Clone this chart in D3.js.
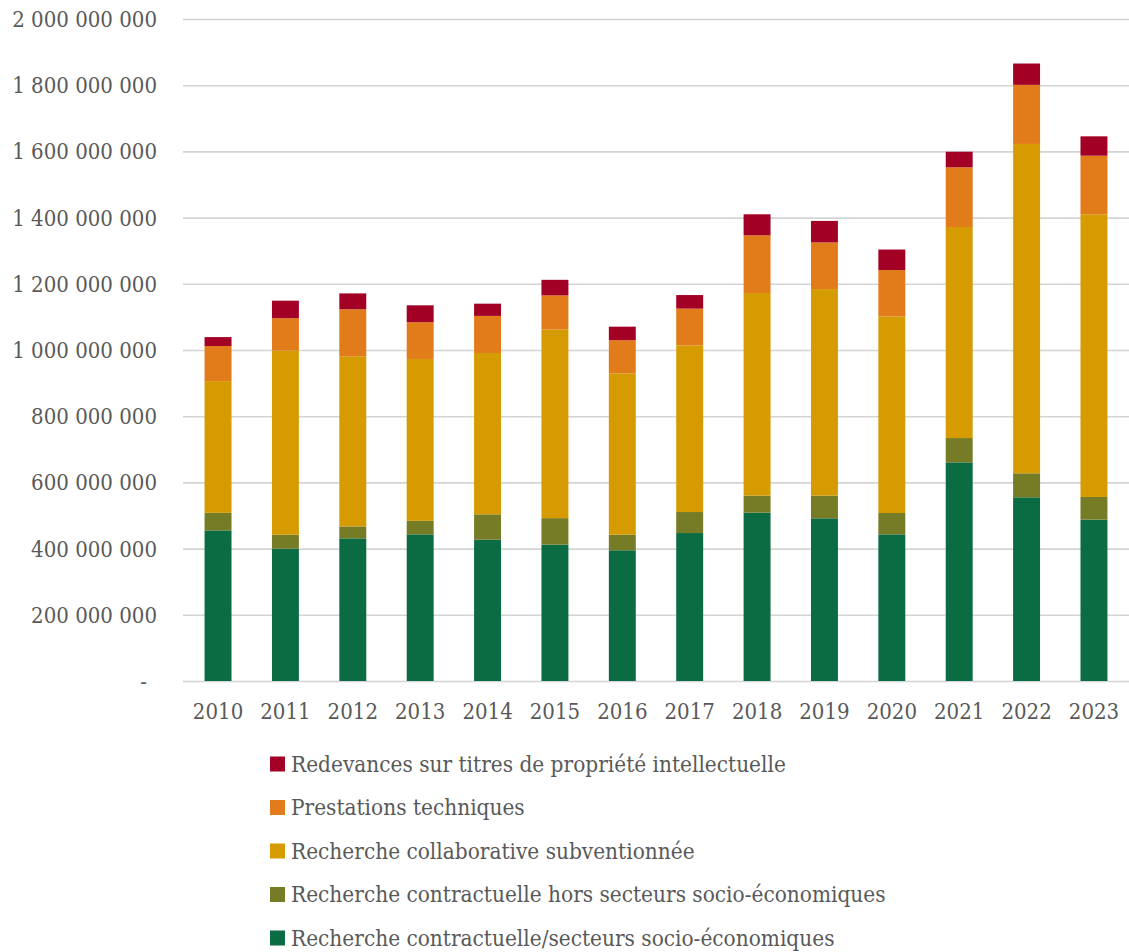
<!DOCTYPE html>
<html>
<head>
<meta charset="utf-8">
<script src="https://cdn.jsdelivr.net/npm/d3@7"></script>
<style>
    body { margin: 0; background: #ffffff; }
    text { font-family: "DejaVu Serif Condensed", "DejaVu Serif", serif; fill: #595959; }
</style>
</head>
<body>
<div id="viz"></div>
<script>
// values in millions of euros
const years = ['2010', '2011', '2012', '2013', '2014', '2015', '2016', '2017', '2018', '2019', '2020', '2021', '2022', '2023'];
const secteursSocio = [455, 400, 431, 443, 427, 412, 395, 447, 508.5, 491.5, 443, 660.5, 555, 487.5];
const horsSecteurs = [53, 42, 36, 41, 76.5, 80, 47, 63.5, 51.5, 68.5, 64.5, 73.5, 72.5, 68.5];
const collaborative = [398, 556, 514, 489, 487.5, 570, 487.5, 503.5, 612, 624, 594, 637.5, 995, 854];
const prestations = [106, 98, 142, 111, 112, 103, 100, 111, 174.5, 141, 140, 180.5, 178.5, 177];
const redevances = [27, 53, 48, 51, 37, 47, 41, 41, 63.5, 65, 62, 47, 64.5, 58.5];
const yTicks = [0, 200, 400, 600, 800, 1000, 1200, 1400, 1600, 1800, 2000];

const seriesNames = [
    'Recherche contractuelle/secteurs socio-économiques',
    'Recherche contractuelle hors secteurs socio-économiques',
    'Recherche collaborative subventionnée',
    'Prestations techniques',
    'Redevances sur titres de propriété intellectuelle'
];
const seriesValues = [secteursSocio, horsSecteurs, collaborative, prestations, redevances];
const seriesColors = ['#0b6b43', '#767c26', '#d69b00', '#e27c1a', '#a30026'];

const W = 1129, H = 952,
    margin = {top: 19, right: 0, bottom: 271, left: 183},
    width = W - margin.left - margin.right,
    height = H - margin.top - margin.bottom;

const table = years.map(function(y, i) {
    const row = {year: y};
    seriesNames.forEach(function(n, k) { row[n] = seriesValues[k][i]; });
    return row;
});

const stacked = d3.stack().keys(seriesNames)(table);

const xScale = d3.scaleBand()
    .domain(years)
    .range([0, width])
    .paddingInner(0.6)
    .paddingOuter(0.32);

const yScale = d3.scaleLinear()
    .domain([0, 2000])
    .range([height, 0]);

const color = d3.scaleOrdinal().domain(seriesNames).range(seriesColors);

const fr = d3.formatLocale({decimal: ',', thousands: ' ', grouping: [3], currency: ['', '']});
const fmt = fr.format(',.0f');

const svg = d3.select('#viz')
    .append('svg')
    .attr('width', W)
    .attr('height', H);

const g = svg.append('g')
    .attr('transform', 'translate(' + margin.left + ',' + margin.top + ')');

// gridlines + y labels
const yAxis = g.append('g')
    .call(d3.axisLeft(yScale)
        .tickValues(yTicks)
        .tickSize(-width)
        .tickPadding(26)
        .tickFormat(function(d) { return d === 0 ? '-' : fmt(d * 1e6); }));

yAxis.select('.domain').remove();
yAxis.selectAll('.tick line')
    .attr('stroke', '#d4d4d4')
    .attr('stroke-width', 1.6);
yAxis.selectAll('.tick text')
    .attr('font-size', 22)
    .attr('fill', '#595959')
    .attr('dy', '0.34em')
    .attr('dx', function(d) { return d === 0 ? -10 : 0; });

// bars
g.append('g')
    .selectAll('g')
    .data(stacked)
    .enter().append('g')
    .attr('fill', function(d) { return color(d.key); })
    .selectAll('rect')
    .data(function(d) { return d; })
    .enter().append('rect')
    .attr('x', function(d) { return xScale(d.data.year); })
    .attr('y', function(d) { return yScale(d[1]); })
    .attr('height', function(d) { return yScale(d[0]) - yScale(d[1]); })
    .attr('width', xScale.bandwidth());

// x labels
const xAxis = g.append('g')
    .attr('transform', 'translate(0,' + height + ')')
    .call(d3.axisBottom(xScale).tickSize(0).tickPadding(22));

xAxis.select('.domain').remove();
xAxis.selectAll('.tick text')
    .attr('font-size', 22)
    .attr('fill', '#595959');

// legend
const legendOrder = seriesNames.slice().reverse();
const legend = svg.append('g')
    .selectAll('g')
    .data(legendOrder)
    .enter().append('g')
    .attr('transform', function(d, i) { return 'translate(270,' + (764 + i * 43.5) + ')'; });

legend.append('rect')
    .attr('x', 0)
    .attr('y', -7.5)
    .attr('width', 15)
    .attr('height', 15)
    .attr('fill', function(d) { return color(d); });

legend.append('text')
    .attr('x', 21)
    .attr('dy', '0.35em')
    .attr('font-size', 22.4)
    .text(function(d) { return d; });
</script>
</body>
</html>
